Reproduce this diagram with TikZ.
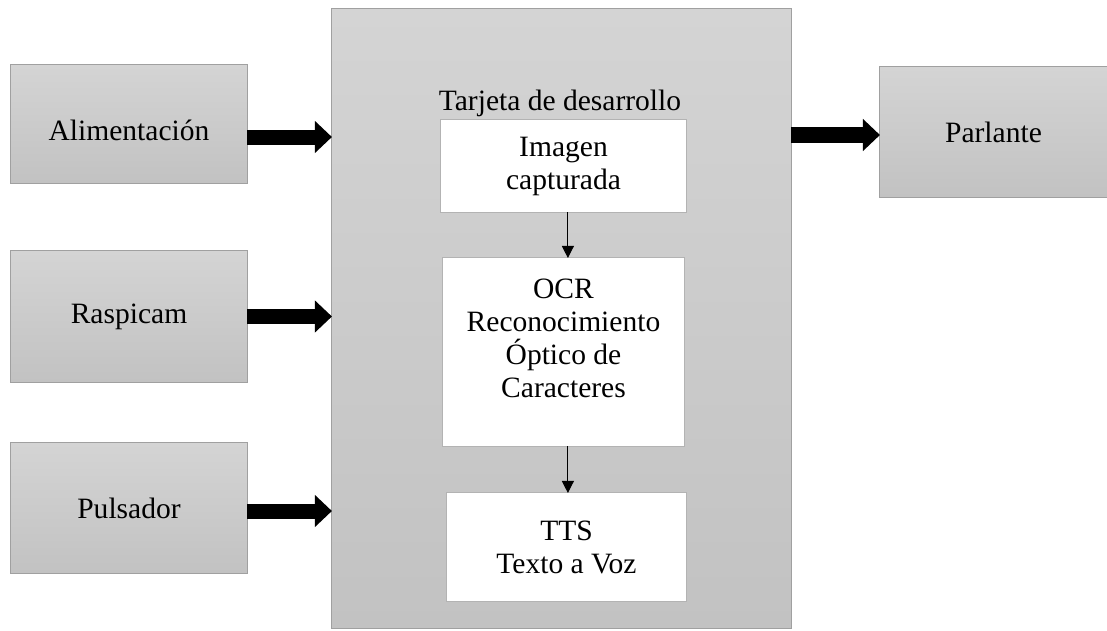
\documentclass[tikz,border=0pt]{standalone}
\usepackage{fontspec}
\setmainfont{Liberation Serif}
\usetikzlibrary{arrows.meta}
\definecolor{boxtop}{RGB}{212, 212, 212}
\definecolor{boxbottom}{RGB}{194, 194, 194}
\definecolor{boxline}{RGB}{160, 160, 160}

\begin{document}
\begin{tikzpicture}[
  x=0.025cm, y=-0.025cm,
  graybox/.style={rectangle, draw=boxline, line width=0.7pt, top color=boxtop, bottom color=boxbottom,
    inner sep=0pt, outer sep=0pt, align=center, font=\fontsize{21}{23.5}\selectfont},
  stagebox/.style={rectangle, draw=boxline!80, line width=0.7pt, fill=white,
    inner sep=0pt, outer sep=0pt, align=center, font=\fontsize{21}{23.5}\selectfont},
  fatarrow/.style={-{Triangle[length=0.425cm, width=0.775cm]}, line width=0.375cm, color=black},
  thinarrow/.style={-{Triangle[length=0.3cm, width=0.3cm]}, line width=0.7pt, color=black}
]
  \useasboundingbox (0,0) rectangle (1107,631);

  \node[graybox, minimum width=5.9cm, minimum height=2.95cm, text height=24pt] (alim) at (129,124) {Alimentación};
  \node[graybox, minimum width=5.9cm, minimum height=3.275cm] (rasp) at (129,316.5) {Raspicam};
  \node[graybox, minimum width=5.9cm, minimum height=3.25cm] (puls) at (129,508) {Pulsador};
  \node[graybox, minimum width=11.475cm, minimum height=15.475cm] (board) at (561.5,318.5) {};
  \node[graybox, minimum width=5.675cm, minimum height=3.25cm] (parl) at (993.5,132) {Parlante};

  \node[font=\fontsize{21}{23.5}\selectfont] (title) at (560,103) {Tarjeta de desarrollo};
  \node[stagebox, minimum width=6.125cm, minimum height=2.3cm] (img) at (563.5,166) {Imagen\\capturada};
  \node[stagebox, minimum width=6.025cm, minimum height=4.7cm, text depth=19pt] (ocr) at (563.5,352)
    {OCR\\Reconocimiento\\Óptico de\\Caracteres};
  \node[stagebox, minimum width=5.975cm, minimum height=2.7cm] (tts) at (566.5,547) {TTS\\Texto a Voz};

  \draw[fatarrow] ([yshift=-0.325cm]alim.east) -- ([yshift=-0.325cm]alim.east -| board.west);
  \draw[fatarrow] (rasp.east) -- (rasp.east -| board.west);
  \draw[fatarrow] ([yshift=-0.075cm]puls.east) -- ([yshift=-0.075cm]puls.east -| board.west);
  \draw[fatarrow] ([yshift=-0.075cm]board.east |- parl.west) -- ([yshift=-0.075cm]parl.west);

  \draw[thinarrow] ([xshift=0.11cm]img.south) -- ([xshift=0.11cm]img.south |- ocr.north);
  \draw[thinarrow] ([xshift=0.11cm]ocr.south) -- ([xshift=0.11cm]ocr.south |- tts.north);
\end{tikzpicture}
\end{document}
